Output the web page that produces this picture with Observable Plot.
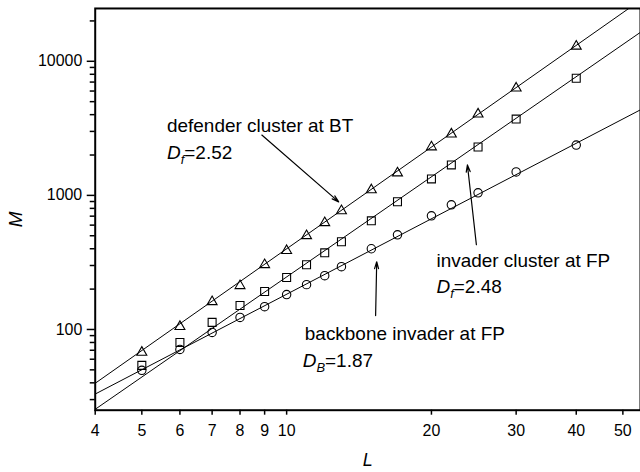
<!DOCTYPE html>
<html>
<head>
<meta charset="utf-8">
<script src="https://cdn.jsdelivr.net/npm/d3@7"></script>
<script src="https://cdn.jsdelivr.net/npm/@observablehq/plot@0.6"></script>
<style>
  html, body { margin: 0; padding: 0; background: white; }
  #chart { width: 640px; height: 472px; overflow: hidden; }
</style>
</head>
<body>
<div id="chart"></div>
<script>
// Lattice size L (x) and mass M (y)
const L = [5, 6, 7, 8, 9, 10, 11, 12, 13, 15, 17, 20, 22, 25, 30, 40];
const defender = [67.5, 105, 161, 212, 304, 387, 500, 625, 767, 1099, 1469, 2296, 2865, 4036, 6300, 12940];
const invader  = [54, 80, 113, 151, 192, 244, 304, 373, 451, 646, 896, 1327, 1687, 2296, 3706, 7480];
const backbone = [49.6, 71, 95, 123, 148, 182, 216, 252, 294, 400, 508, 704, 850, 1045, 1496, 2372];

// Fitted straight lines: values read at the left and right ends of the frame
const fitL = [4, 54.4];
const fitDefender = [39.7, 28530];
const fitInvader  = [25.4, 16460];
const fitBackbone = [33, 4348];

// Axis ticks
const xTicks = [4, 5, 6, 7, 8, 9, 10, 20, 30, 40, 50];
const yMajor = [100, 1000, 10000];
const yMinor = [30, 40, 50, 60, 70, 80, 90, 200, 300, 400, 500, 600, 700, 800, 900,
                2000, 3000, 4000, 5000, 6000, 7000, 8000, 9000, 20000];

// Annotations (data coordinates)
const labelText = ["defender cluster at BT", "invader cluster at FP", "backbone invader at FP"];
const labelL = [5.64, 20.49, 10.91];
const labelM = [3287, 325.8, 93.4];
const dimText = ["f|2.52", "f|2.48", "B|1.87"];
const dimL = [5.64, 20.49, 10.8];
const dimM = [2070, 208.8, 57.8];
const arrowL1 = [8.88, 24.8, 15.31];
const arrowM1 = [2817, 428.5, 127];
const arrowL2 = [12.83, 23.76, 15.39];
const arrowM2 = [894, 1686, 320];

const seriesNames = ["defender", "invader", "backbone"];
const seriesVals = [defender, invader, backbone];
const seriesSym = ["triangle", "square", "circle"];
const seriesR = [3.7, 4.5, 4.2];
const fitVals = [fitDefender, fitInvader, fitBackbone];

const points = seriesNames.map((s, i) => L.map((l, j) => ({series: s, L: l, M: seriesVals[i][j]})));
const fits = seriesNames.flatMap((s, i) => fitL.map((l, j) => ({series: s, L: l, M: fitVals[i][j]})));
const labels = labelText.map((t, i) => ({text: t, L: labelL[i], M: labelM[i]}));
const dims = dimText.map((t, i) => ({text: t, L: dimL[i], M: dimM[i]}));
const arrows = arrowL1.map((l, i) => ({x1: l, y1: arrowM1[i], x2: arrowL2[i], y2: arrowM2[i]}));

const chart = Plot.plot({
  width: 642,
  height: 472,
  marginLeft: 95,
  marginRight: 0,
  marginTop: 8,
  marginBottom: 61,
  x: {type: "log", domain: [4, 54.4]},
  y: {type: "log", domain: [25, 24770]},
  style: {fontFamily: "'Liberation Sans', Arial, Helvetica, sans-serif", fontSize: "16px", color: "black", background: "white"},
  marks: [
    Plot.line(fits, {x: "L", y: "M", z: "series", stroke: "black", strokeWidth: 1, clip: true}),
    ...points.map((pts, i) => Plot.dot(pts, {x: "L", y: "M", symbol: seriesSym[i], r: seriesR[i], stroke: "black", fill: "none", strokeWidth: 1.1})),
    Plot.arrow(arrows, {x1: "x1", y1: "y1", x2: "x2", y2: "y2", stroke: "black", strokeWidth: 1.2, headLength: 9, headAngle: 32}),
    Plot.text(labels, {x: "L", y: "M", text: "text", textAnchor: "start", fontSize: 19, fill: "black"}),
    Plot.text(dims, {x: "L", y: "M", text: "text", textAnchor: "start", fontSize: 19, fill: "black"}),
    Plot.axisX(xTicks, {tickSize: 5, tickFormat: () => "", strokeWidth: 1.5, label: null}),
    Plot.text(xTicks, {x: d => d, text: d => String(d), frameAnchor: "bottom", dy: 21, textAnchor: "middle", lineAnchor: "middle", fontSize: 16, fill: "black"}),
    Plot.axisY(yMajor, {tickSize: 8, tickPadding: 5, tickFormat: d => String(d), strokeWidth: 1.5, label: null, fontSize: 16}),
    Plot.axisY(yMinor, {tickSize: 5, tickFormat: () => "", strokeWidth: 1.5, label: null}),
    Plot.text(["M"], {frameAnchor: "left", dx: -80, dy: 10, rotate: -90, text: d => d, textAnchor: "middle", lineAnchor: "middle", fontStyle: "italic", fontSize: 19}),
    Plot.text(["L"], {frameAnchor: "bottom", dy: 50, text: d => d, textAnchor: "middle", lineAnchor: "middle", fontStyle: "italic", fontSize: 18}),
    Plot.frame({stroke: "black", strokeWidth: 2})
  ]
});

// Turn "f|2.52" into D with subscript
d3.select(chart).selectAll("text").each(function() {
  const t = this.textContent;
  if (!t.includes("|")) return;
  const [sub, val] = t.split("|");
  const sel = d3.select(this);
  sel.text(null);
  sel.append("tspan").attr("font-style", "italic").text("D");
  sel.append("tspan").attr("font-style", "italic").attr("font-size", 13).attr("dy", 5).text(sub);
  sel.append("tspan").attr("dy", -5).text("=" + val);
});

document.getElementById("chart").appendChild(chart);
</script>
</body>
</html>
